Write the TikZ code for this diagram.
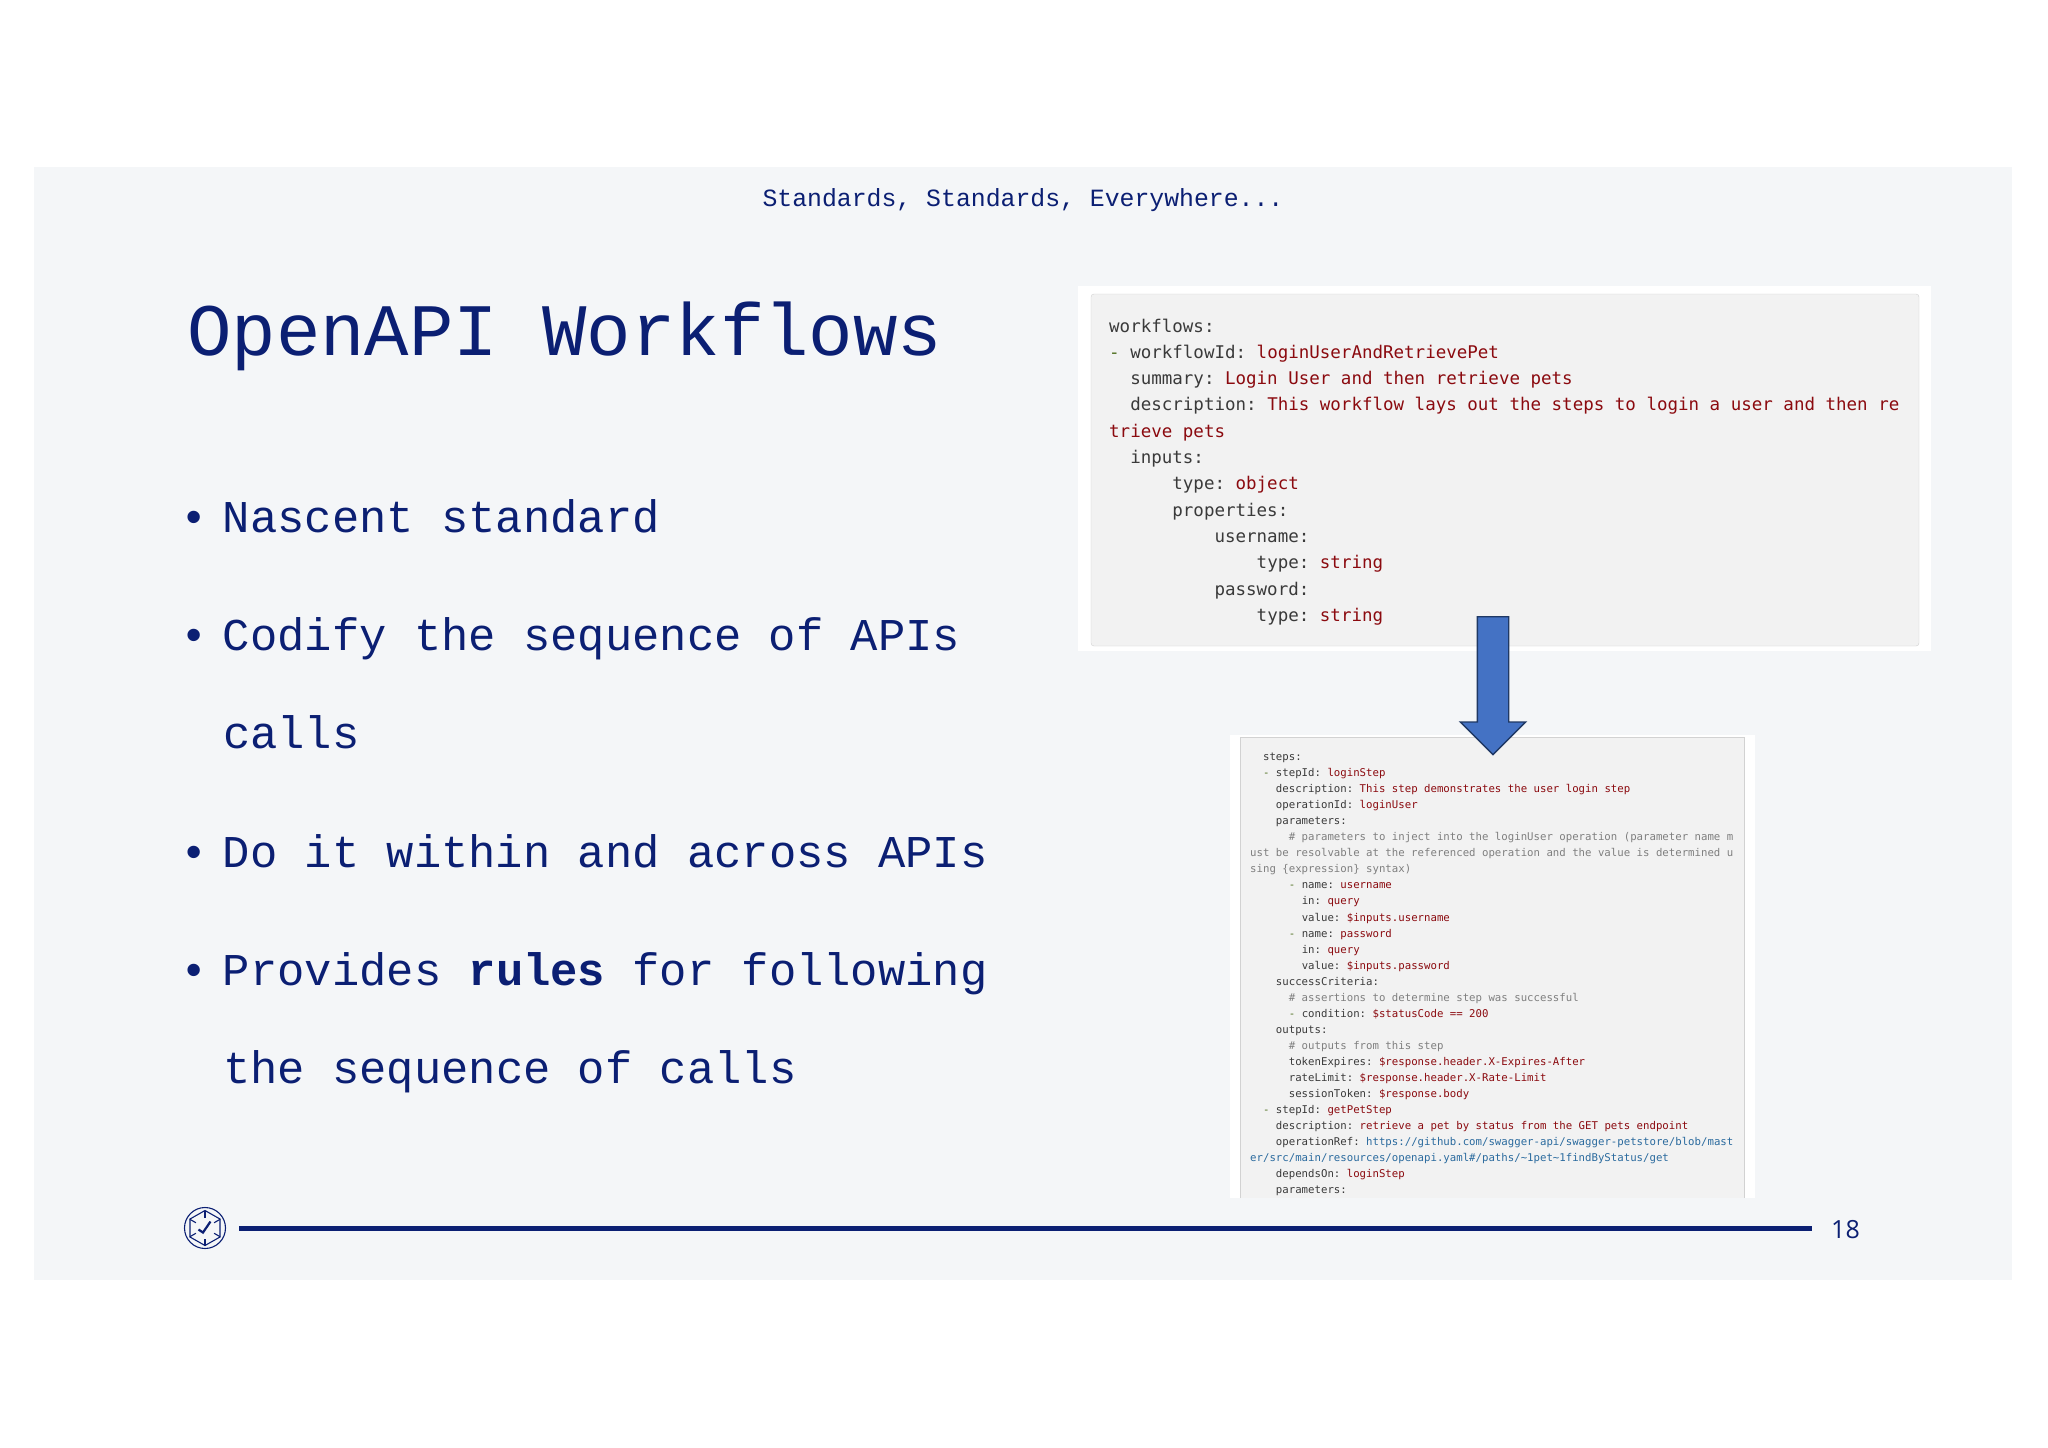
\documentclass[tikz,border=0pt]{standalone}
\usepackage{fontspec}
\usepackage{amsmath}
\setmainfont{Liberation Mono}
\newfontfamily\codefont{DejaVu Sans Mono}
\newfontfamily\numfont{Open Sans}
\usetikzlibrary {positioning,shapes.arrows}
\definecolor{slidebg}{HTML}{F4F6F8}
\definecolor{navy}{HTML}{0B1F73}
\definecolor{codebg}{HTML}{F2F2F2}
\definecolor{codeline}{HTML}{D2D2D2}
\definecolor{codekey}{HTML}{3A3A3A}
\definecolor{codeval}{HTML}{8B0A0F}
\definecolor{codecom}{HTML}{7F7F7F}
\definecolor{codelink}{HTML}{2A6A9E}
\definecolor{codedash}{HTML}{4F7020}
\definecolor{arrowfill}{HTML}{4472C4}
\definecolor{arrowline}{HTML}{1F3864}
\newcommand{\ind}[1]{\hspace*{#1\fontcharwd\font`0}}
\newcommand{\val}[1]{\textcolor{codeval}{#1}}
\newcommand{\com}[1]{\textcolor{codecom}{#1}}
\newcommand{\lnk}[1]{\textcolor{codelink}{#1}}
\newcommand{\dsh}{\textcolor{codedash}{-} }
\newcommand{\bull}{\llap{\textbullet\hspace{15pt}}}

\begin{document}
\begin{tikzpicture}[x=1pt,y=-1pt,node distance =118.5pt and 0pt,on grid,
headline/.style ={text=navy,inner sep=0pt,font=\fontsize{24.8}{30}\selectfont},
slidetitle/.style ={text=navy,inner sep=0pt,font=\fontsize{74}{80}\selectfont},
itemline/.style ={text=navy,inner sep=0pt,text width=770pt,align=flush left,text height=34pt,text depth=10pt,
font=\fontsize{45.5}{50}\selectfont\frenchspacing},
codetext/.style ={text=codekey,inner sep=0pt,align=left},
footrule/.style ={navy,line width=5pt},
logoline/.style ={navy,line width=1.1pt}]
% slide
\fill[white] (0,0) rectangle (2048,1448);
\useasboundingbox (0,0) rectangle (2048,1448);
\fill[slidebg] (34,167) rectangle (2012,1280);
\node[headline] (head) at (1023,200) {Standards, Standards, Everywhere...};
\node[slidetitle,anchor=base west] (title) at (187,355.5) {OpenAPI Workflows};

% bullets
\node[itemline] (nascent) at (608,520) {\bull Nascent standard};
\node[itemline] (codify) [below=of nascent] {\bull Codify the sequence of APIs};
\node[itemline, node distance =98pt and 0pt] (calls) [below=of codify] {calls};
\node[itemline] (within) [below=of calls] {\bull Do it within and across APIs};
\node[itemline] (provides) [below=of within] {\bull Provides \textbf{rules} for following};
\node[itemline, node distance =98pt and 0pt] (sequence) [below=of provides] {the sequence of calls};

% upper code panel
\fill[white] (1078,286) rectangle (1931,651);
\draw[codeline,fill=codebg,rounded corners=3pt] (1091,294) rectangle (1919,646);
\node[codetext,anchor=north west,font=\codefont\fontsize{17.5}{26.3}\selectfont\frenchspacing] (workflow) at (1109,318.5) {%
workflows:\\
\dsh workflowId: \val{loginUserAndRetrievePet}\\
\ind{2}summary: \val{Login User and then retrieve pets}\\
\ind{2}description: \val{This workflow lays out the steps to login a user and then re}\\
\val{trieve pets}\\
\ind{2}inputs:\\
\ind{6}type: \val{object}\\
\ind{6}properties:\\
\ind{10}username:\\
\ind{14}type: \val{string}\\
\ind{10}password:\\
\ind{14}type: \val{string}};

% lower code panel
\fill[white] (1230,735) rectangle (1755,1198);
\fill[codebg] (1240,737) rectangle (1744,1198);
\draw[codeline] (1240,1198) -- (1240,737) -- (1744,737) -- (1744,1198);
\node[codetext,anchor=north west,font=\codefont\fontsize{10.7}{16.03}\selectfont\frenchspacing] (steps) at (1250,753) {%
\ind{2}steps:\\
\ind{2}\dsh stepId: \val{loginStep}\\
\ind{4}description: \val{This step demonstrates the user login step}\\
\ind{4}operationId: \val{loginUser}\\
\ind{4}parameters:\\
\ind{6}\com{\# parameters to inject into the loginUser operation (parameter name m}\\
\com{ust be resolvable at the referenced operation and the value is determined u}\\
\com{sing \{expression\} syntax)}\\
\ind{6}\dsh name: \val{username}\\
\ind{8}in: \val{query}\\
\ind{8}value: \val{\$inputs.username}\\
\ind{6}\dsh name: \val{password}\\
\ind{8}in: \val{query}\\
\ind{8}value: \val{\$inputs.password}\\
\ind{4}successCriteria:\\
\ind{6}\com{\# assertions to determine step was successful}\\
\ind{6}\dsh condition: \val{\$statusCode == 200}\\
\ind{4}outputs:\\
\ind{6}\com{\# outputs from this step}\\
\ind{6}tokenExpires: \val{\$response.header.X-Expires-After}\\
\ind{6}rateLimit: \val{\$response.header.X-Rate-Limit}\\
\ind{6}sessionToken: \val{\$response.body}\\
\ind{2}\dsh stepId: \val{getPetStep}\\
\ind{4}description: \val{retrieve a pet by status from the GET pets endpoint}\\
\ind{4}operationRef: \lnk{https://github.com/swagger-api/swagger-petstore/blob/mast}\\
\lnk{er/src/main/resources/openapi.yaml\#/paths/\textasciitilde 1pet\textasciitilde 1findByStatus/get}\\
\ind{4}dependsOn: \val{loginStep}\\
\ind{4}parameters:};

% block arrow between the panels
\node[single arrow,anchor=tail,rotate=-90,draw=arrowline,line width=1.4pt,fill=arrowfill,
inner sep=0pt,minimum height=138pt,minimum width=64pt,single arrow head extend=17pt,
single arrow head indent=0pt] (flow) at (1493,616) {\rule{0pt}{30pt}};

% footer
\node[circle,draw=navy,line width=1.1pt,minimum size=41pt,inner sep=0pt] (logo) at (205,1228) {};
\node[text=navy,inner sep=0pt,font=\numfont\fontsize{25}{30}\selectfont] (page) at (1845.5,1230) {18};
\draw[footrule,shorten <=13pt,shorten >=19pt] (logo) -- (logo -| page.west);
\draw[logoline] (205,1210.5) -- (220,1219) -- (220,1237) -- (205,1245.5) -- (190,1237) -- (190,1219) -- cycle;
\foreach \ang in {30,90,150,210,270,330}
  \draw[logoline] (logo.center) ++(\ang:-17.5pt) -- ++(\ang:7pt);
\draw[navy,line width=2.2pt] (198.5,1229.5) -- (203,1232.5) -- (210.5,1221.5);
\end{tikzpicture}
\end{document}
